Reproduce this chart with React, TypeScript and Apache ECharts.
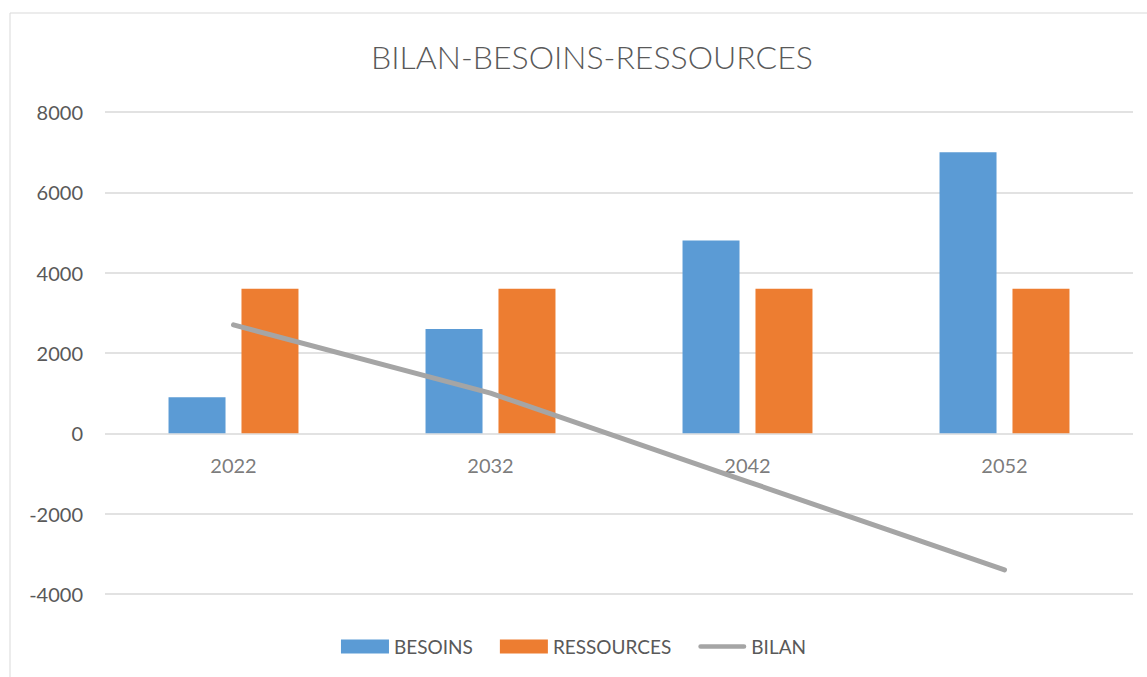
import React, { useEffect, useRef } from "react";
import * as echarts from "echarts";

const categories = ["2022", "2032", "2042", "2052"];
const besoins = [900, 2600, 4800, 7000];
const ressources = [3600, 3600, 3600, 3600];
const bilan = [2700, 1000, -1200, -3400];

const FONT = "Lato, 'Open Sans', sans-serif";
const TXT = "#595959";

export default function App() {
  const ref = useRef<HTMLDivElement>(null);
  useEffect(() => {
    document.body.style.margin = "0";
    const chart = echarts.init(ref.current!, null, { renderer: "svg" });
    chart.setOption({
      animation: false,
      backgroundColor: "#ffffff",
      textStyle: { fontFamily: FONT, color: TXT },
      title: {
        text: "BILAN-BESOINS-RESSOURCES",
        left: 366,
        top: 35,
        textStyle: { fontFamily: FONT, fontSize: 32, fontWeight: 300, color: TXT },
      },
      graphic: [
        {
          type: "rect",
          shape: { x: 10, y: 13, width: 1300, height: 800 },
          style: { fill: "none", stroke: "#D9D9D9", lineWidth: 1 },
          silent: true,
          z: -1,
        },
      ],
      legend: {
        bottom: 16,
        left: "center",
        itemWidth: 48,
        itemHeight: 14,
        itemGap: 27,
        textStyle: { fontFamily: FONT, fontSize: 19, color: TXT },
        data: [
          { name: "BESOINS", icon: "rect" },
          { name: "RESSOURCES", icon: "rect" },
          {
            name: "BILAN",
            icon: "path://M0,0 M52,14 M2.5,4.5 h47 a2.5,2.5 0 0 1 0,5 h-47 a2.5,2.5 0 0 1 0,-5 z",
          },
        ],
      },
      grid: { left: 105, right: 14, top: 112, bottom: 83, containLabel: false },
      xAxis: {
        type: "category",
        data: categories,
        axisLine: { show: false },
        axisTick: { show: false },
        axisLabel: { show: false },
      },
      yAxis: {
        type: "value",
        min: -4000,
        max: 8000,
        interval: 2000,
        axisLine: { show: false },
        axisTick: { show: false },
        splitLine: { lineStyle: { color: "#D9D9D9", width: 1.5 } },
        axisLabel: {
          margin: 22,
          fontSize: 20,
          color: TXT,
          fontFamily: FONT,
          formatter: (v: number) => String(v),
        },
      },
      series: [
        {
          name: "BESOINS",
          type: "bar",
          data: besoins,
          barWidth: 57,
          barGap: "28%",
          itemStyle: { color: "#5B9BD5" },
        },
        {
          name: "RESSOURCES",
          type: "bar",
          data: ressources,
          barWidth: 57,
          barGap: "28%",
          itemStyle: { color: "#ED7D31" },
        },
        {
          name: "BILAN",
          type: "line",
          data: bilan,
          symbol: "none",
          lineStyle: { color: "#A5A5A5", width: 5, cap: "round" },
          itemStyle: { color: "#A5A5A5" },
          z: 3,
        },
        {
          name: "categoryLabels",
          type: "scatter",
          data: categories.map((_, i) => [i, 0]),
          symbolSize: 0,
          silent: true,
          z: 1,
          label: {
            show: true,
            position: "bottom",
            distance: 22,
            fontSize: 20,
            color: TXT,
            fontFamily: FONT,
            formatter: (p: any) => categories[p.dataIndex],
          },
        },
      ],
    });
    return () => chart.dispose();
  }, []);
  return (
    <div
      ref={ref}
      style={{ position: "absolute", left: 0, top: 0, width: 1147, height: 677 }}
    />
  );
}
